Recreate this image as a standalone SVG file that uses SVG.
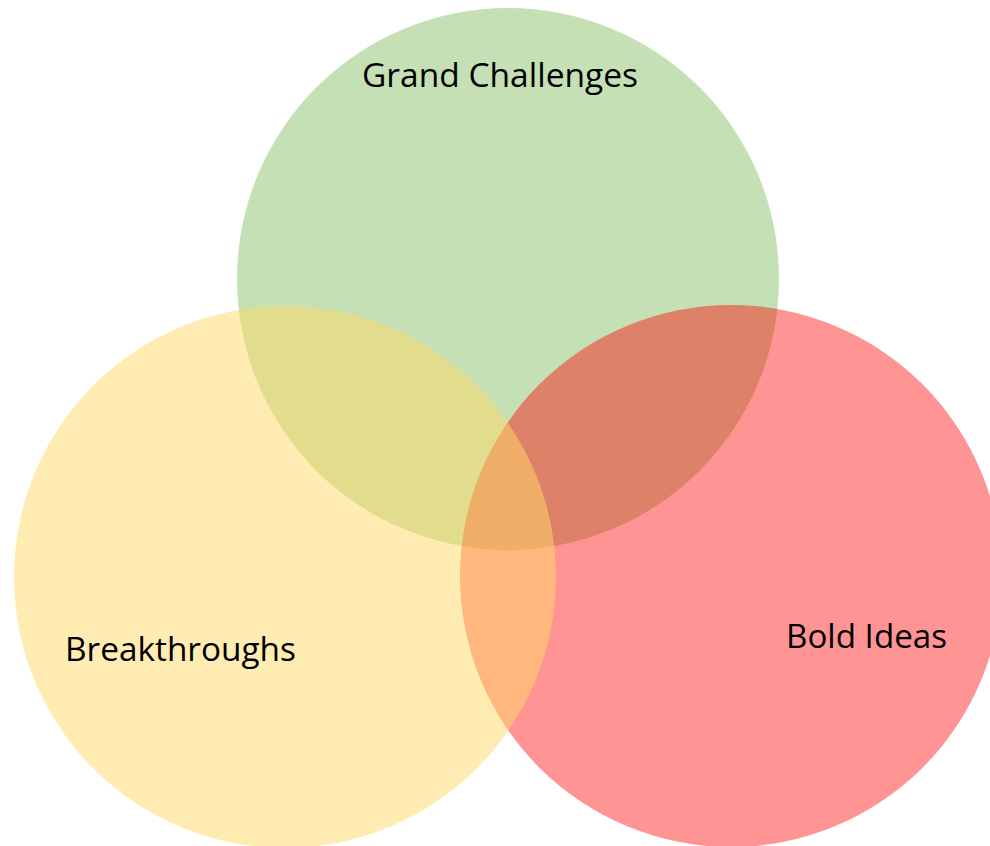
<svg xmlns="http://www.w3.org/2000/svg" width="990" height="846" viewBox="0 0 990 846">
  <style>
    .lbl { font-family: "Open Sans", "Liberation Sans", sans-serif; font-size: 33px; fill: #000000; }
    .green { fill: #c5e0b4; }
    .red { fill: #ff0000; fill-opacity: 0.42; }
    .yellow { fill: #ffd966; fill-opacity: 0.5; }
  </style>
  <rect x="0" y="0" width="990" height="846" fill="#ffffff"/>
  <g id="grand-challenges">
    <circle class="green" cx="508" cy="279" r="271"/>
    <text class="lbl" x="362" y="87" textLength="276" lengthAdjust="spacingAndGlyphs">Grand Challenges</text>
  </g>
  <g id="bold-ideas">
    <circle class="red" cx="731" cy="576" r="271"/>
    <text class="lbl" x="786" y="648" textLength="161" lengthAdjust="spacingAndGlyphs">Bold Ideas</text>
  </g>
  <g id="breakthroughs">
    <circle class="yellow" cx="285" cy="577" r="271"/>
    <text class="lbl" x="65" y="661" textLength="231" lengthAdjust="spacingAndGlyphs">Breakthroughs</text>
  </g>
</svg>
